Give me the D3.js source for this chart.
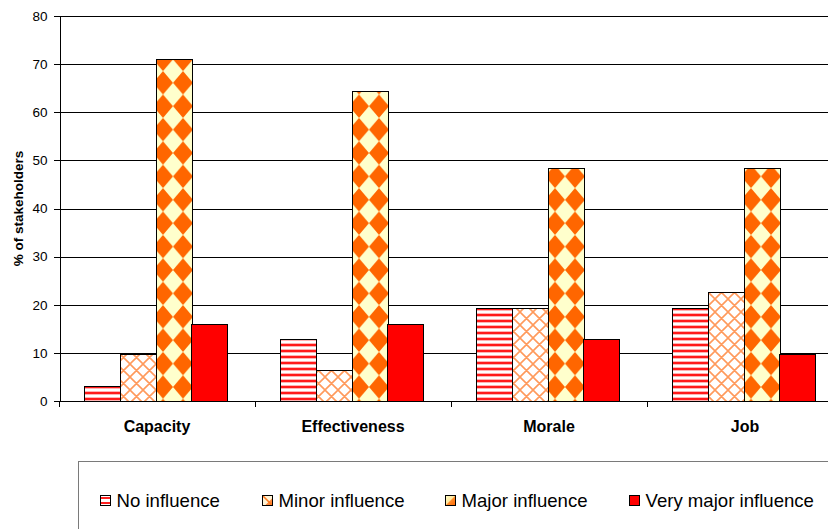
<!DOCTYPE html>
<html>
<head>
<meta charset="utf-8">
<script src="https://cdn.jsdelivr.net/npm/d3@7"></script>
<style>
  body { margin: 0; background: #fff; }
  svg { display: block; }
  text { font-family: "Liberation Sans", Arial, sans-serif; fill: #000; }
</style>
</head>
<body>
<svg id="chart" width="828" height="529"></svg>
<script>
// Share of stakeholders (%) reporting each level of influence
const categories = ["Capacity", "Effectiveness", "Morale", "Job"];
const seriesNames = ["No influence", "Minor influence", "Major influence", "Very major influence"];
const noInfluence = [3.2, 12.9, 19.4, 19.4];
const minorInfluence = [9.7, 6.5, 19.4, 22.6];
const majorInfluence = [71.0, 64.5, 48.4, 48.4];
const veryMajorInfluence = [16.1, 16.1, 12.9, 9.7];
const yTicks = [0, 10, 20, 30, 40, 50, 60, 70, 80];
const yTitle = "% of stakeholders";

const seriesValues = [noInfluence, minorInfluence, majorInfluence, veryMajorInfluence];

const svg = d3.select("#chart");
const plot = { left: 59, right: 843, top: 16, bottom: 401 };

// ---- scales ----
const y = d3.scaleLinear().domain([0, 80]).range([plot.bottom, plot.top]);
const x0 = d3.scaleBand().domain(categories).range([plot.left, plot.right]).padding(0);
const x1 = d3.scaleBand().domain(seriesNames).range([25.2, 168.2]).padding(0);

// ---- fill patterns ----
const defs = svg.append("defs");

// horizontal red stripes
const pNone = defs.append("pattern").attr("id", "pNone")
  .attr("patternUnits", "userSpaceOnUse").attr("width", 6).attr("height", 6);
pNone.append("rect").attr("width", 6).attr("height", 6).attr("fill", "#fff");
pNone.append("rect").attr("y", 1).attr("width", 6).attr("height", 1).attr("fill", "#ffb3b3");
pNone.append("rect").attr("y", 2).attr("width", 6).attr("height", 2).attr("fill", "#ff1a1a");
pNone.append("rect").attr("y", 4).attr("width", 6).attr("height", 1).attr("fill", "#ffb3b3");

// orange diagonal lattice
const pMinor = defs.append("pattern").attr("id", "pMinor")
  .attr("patternUnits", "userSpaceOnUse").attr("width", 13).attr("height", 13);
pMinor.append("rect").attr("width", 13).attr("height", 13).attr("fill", "#fff");
pMinor.append("path").attr("d", "M0,0L13,13M13,0L0,13M-1,12L1,14M12,-1L14,1M-1,1L1,-1M12,14L14,12")
  .attr("stroke", "#ff9a5c").attr("stroke-width", 1.6).attr("fill", "none");

// diamond checkerboard (orange / cream), anchored to each bar's left edge
const tw = 20, th = 23.4;
categories.forEach((c, i) => {
  const left = Math.round(x0(c) + x1(seriesNames[2])) + 0.5;
  const p = defs.append("pattern").attr("id", `pMajor${i}`)
    .attr("patternUnits", "userSpaceOnUse")
    .attr("x", left + 6.5).attr("y", 153)
    .attr("width", tw).attr("height", th);
  p.append("rect").attr("x", -1).attr("y", -1).attr("width", tw + 2).attr("height", th + 2).attr("fill", "#ff6600");
  p.append("path")
    .attr("d", `M0,${th / 2}L${tw / 2},0L${tw},${th / 2}L${tw / 2},${th}Z`)
    .attr("fill", "#ffffcc");
});

// legend swatch gradient
const gMajor = defs.append("linearGradient").attr("id", "gMajor")
  .attr("x1", 0).attr("y1", 0).attr("x2", 1).attr("y2", 1);
gMajor.append("stop").attr("offset", "0").attr("stop-color", "#ffffcc");
gMajor.append("stop").attr("offset", "0.45").attr("stop-color", "#ffe9a0");
gMajor.append("stop").attr("offset", "0.55").attr("stop-color", "#ff8a2a");
gMajor.append("stop").attr("offset", "1").attr("stop-color", "#ff6600");

const fillFor = (k, ci) => ["url(#pNone)", "url(#pMinor)", `url(#pMajor${ci})`, "#ff0000"][k];

// ---- gridlines ----
svg.append("g")
  .attr("transform", `translate(${plot.left},0)`)
  .call(d3.axisLeft(y).tickValues(yTicks.filter(v => v > 0)).tickSize(-(plot.right - plot.left)).tickFormat(""))
  .call(g => g.select(".domain").remove())
  .call(g => g.selectAll("line").attr("stroke", "#000").attr("shape-rendering", "crispEdges"));

// ---- bars ----
const groups = svg.append("g").selectAll("g")
  .data(categories)
  .join("g");

groups.selectAll("rect")
  .data((c, i) => seriesNames.map((s, k) => ({ c, ci: i, s, k, v: seriesValues[k][i] })))
  .join("rect")
  .attr("x", d => Math.round(x0(d.c) + x1(d.s)) + 0.5)
  .attr("width", d => Math.round(x1.bandwidth()))
  .attr("y", d => Math.round(y(d.v)) + 0.5)
  .attr("height", d => Math.round(y(0)) - Math.round(y(d.v)))
  .attr("fill", d => fillFor(d.k, d.ci))
  .attr("stroke", "#000")
  .attr("stroke-width", 1);

// ---- y axis ----
svg.append("g")
  .attr("transform", `translate(${plot.left + 0.5},0)`)
  .call(d3.axisLeft(y).tickValues(yTicks).tickSize(6).tickPadding(6).tickSizeOuter(0))
  .call(g => g.selectAll("line,path").attr("stroke", "#000").attr("shape-rendering", "crispEdges"))
  .call(g => g.selectAll("text").attr("font-size", "13.5px").attr("font-family", "Liberation Sans, Arial, sans-serif"));

// ---- x axis: baseline, category boundary ticks, labels ----
const xAxis = svg.append("g");
xAxis.append("line")
  .attr("x1", plot.left).attr("x2", plot.right)
  .attr("y1", y(0) + 0.5).attr("y2", y(0) + 0.5)
  .attr("stroke", "#000");
const bounds = categories.map(c => x0(c)).concat([plot.right]);
xAxis.selectAll("line.tick")
  .data(bounds)
  .join("line").attr("class", "tick")
  .attr("x1", d => Math.round(d) + 0.5).attr("x2", d => Math.round(d) + 0.5)
  .attr("y1", y(0)).attr("y2", y(0) + 6)
  .attr("stroke", "#000");
xAxis.selectAll("text")
  .data(categories)
  .join("text")
  .attr("x", d => x0(d) + x0.bandwidth() / 2)
  .attr("y", 432)
  .attr("text-anchor", "middle")
  .attr("font-size", "16px")
  .attr("font-weight", "bold")
  .text(d => d);

// ---- y title ----
svg.append("text")
  .attr("transform", `translate(22.5,${(plot.top + plot.bottom) / 2}) rotate(-90)`)
  .attr("text-anchor", "middle")
  .attr("font-size", "13.5px")
  .attr("font-weight", "bold")
  .text(yTitle);

// ---- legend ----
const legend = svg.append("g");
legend.append("rect")
  .attr("x", 78.5).attr("y", 461.5).attr("width", 800).attr("height", 100)
  .attr("fill", "#fff").attr("stroke", "#7a7a7a");

const legendX = [100, 262, 445, 629];
const items = legend.selectAll("g.item")
  .data(seriesNames)
  .join("g").attr("class", "item")
  .attr("transform", (d, i) => `translate(${legendX[i]},495)`);

items.each(function (d, i) {
  const g = d3.select(this);
  if (i === 0) {
    g.append("rect").attr("x", 0.5).attr("y", 0.5).attr("width", 10).attr("height", 10).attr("fill", "#fff");
    g.append("rect").attr("x", 1).attr("y", 2).attr("width", 9).attr("height", 2).attr("fill", "#ff2020");
    g.append("rect").attr("x", 1).attr("y", 7).attr("width", 9).attr("height", 2).attr("fill", "#ff2020");
  } else if (i === 1) {
    g.append("rect").attr("x", 0.5).attr("y", 0.5).attr("width", 10).attr("height", 10).attr("fill", "#fff4d6");
    g.append("path").attr("d", "M10.5,3L10.5,10.5L3,10.5Z").attr("fill", "#ff8a3d");
    g.append("path").attr("d", "M1,1L10,10").attr("stroke", "#ff7a20").attr("stroke-width", 1.6);
  } else if (i === 2) {
    g.append("rect").attr("x", 0.5).attr("y", 0.5).attr("width", 10).attr("height", 10).attr("fill", "url(#gMajor)");
  } else {
    g.append("rect").attr("x", 0.5).attr("y", 0.5).attr("width", 10).attr("height", 10).attr("fill", "#ff0000");
  }
  g.append("rect").attr("x", 0.5).attr("y", 0.5).attr("width", 10).attr("height", 10)
    .attr("fill", "none").attr("stroke", "#000");
  g.append("text").attr("x", 16.5).attr("y", 11.5)
    .attr("font-size", "18.6px")
    .text(d);
});
</script>
</body>
</html>
